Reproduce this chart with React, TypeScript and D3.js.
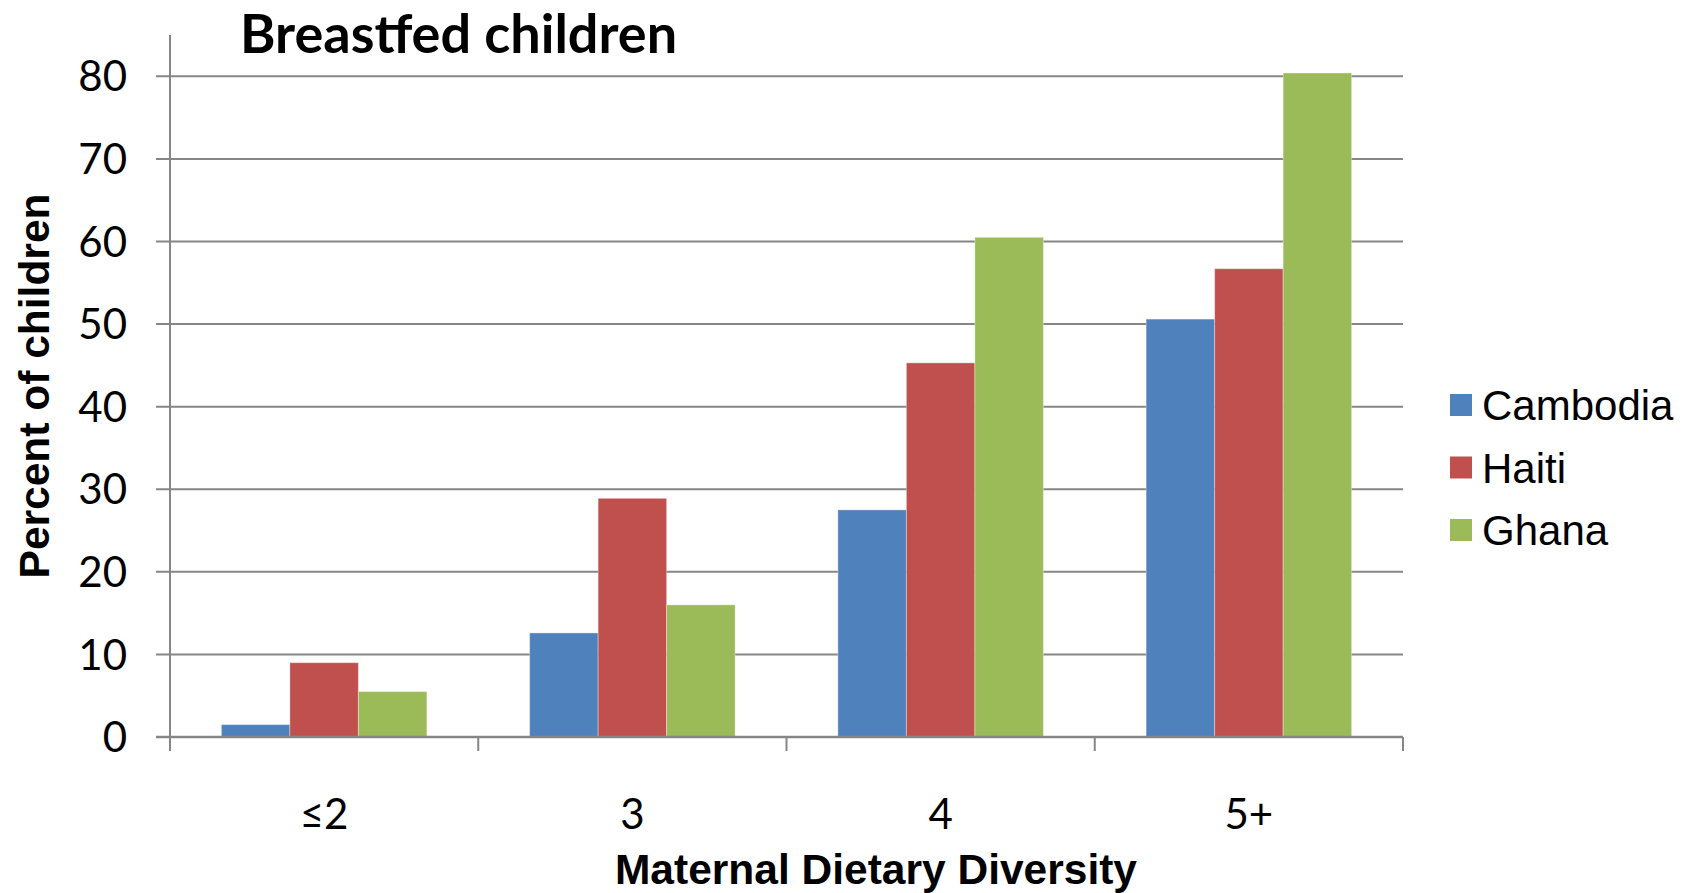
import React from "react";
import * as d3 from "d3";

const categories = ["≤2", "3", "4", "5+"];
const seriesNames = ["Cambodia", "Haiti", "Ghana"];
const cambodia = [1.5, 12.6, 27.5, 50.6];
const haiti = [9.0, 28.9, 45.3, 56.7];
const ghana = [5.5, 16.0, 60.5, 80.4];
const yTicks = [0, 10, 20, 30, 40, 50, 60, 70, 80];
const colors = ["#4F81BD", "#C0504D", "#9BBB59"];

const W = 1690;
const H = 893;
const left = 170;
const right = 1403;
const top = 35;
const bottom = 737;

export default function App() {
  const series = [cambodia, haiti, ghana];
  const x = d3.scaleBand<string>().domain(categories).range([left, right]).paddingInner(0).paddingOuter(0);
  const inner = d3
    .scaleBand<string>()
    .domain(seriesNames)
    .range([0, x.bandwidth()])
    .paddingInner(0)
    .paddingOuter(0.75);
  const y = d3.scaleLinear().domain([0, 85]).range([bottom, top]);
  const grid = "#868686";
  const sansNarrow = "Lato, 'Liberation Sans', sans-serif";
  const arial = "'Liberation Sans', Arial, sans-serif";
  const boundaries = categories.map((c) => x(c)!).concat([right]);

  return (
    <svg width={W} height={H} style={{ position: "absolute", left: 0, top: 0, background: "#fff" }}>
      {/* gridlines with left tick stubs */}
      {yTicks.map((t) => (
        <line key={"g" + t} x1={156} x2={right} y1={y(t)} y2={y(t)} stroke={grid} strokeWidth={2} />
      ))}
      {/* bars */}
      {categories.map((c, ci) =>
        series.map((s, si) => (
          <rect
            key={c + si}
            x={x(c)! + inner(seriesNames[si])!}
            y={y(s[ci])}
            width={inner.bandwidth()}
            height={y(0) - y(s[ci])}
            fill={colors[si]}
            stroke="rgba(255,255,255,0.35)"
            strokeWidth={1}
          />
        ))
      )}
      {/* axes */}
      <line x1={left} x2={left} y1={top} y2={751} stroke={grid} strokeWidth={2} />
      <line x1={156} x2={right} y1={y(0)} y2={y(0)} stroke={grid} strokeWidth={2.5} />
      {boundaries.map((b, i) => (
        <line key={"t" + i} x1={b} x2={b} y1={y(0)} y2={751} stroke={grid} strokeWidth={2} />
      ))}
      {/* y tick labels */}
      {yTicks.map((t) => (
        <text
          key={"l" + t}
          x={127}
          y={y(t)}
          dy="0.36em"
          textAnchor="end"
          fontFamily={sansNarrow}
          fontSize={42}
          fill="#000"
        >
          {t}
        </text>
      ))}
      {/* category labels */}
      {categories.map((c) => (
        <text
          key={"c" + c}
          x={x(c)! + x.bandwidth() / 2}
          y={814}
          dy="0.36em"
          textAnchor="middle"
          fontFamily={sansNarrow}
          fontSize={42}
          fill="#000"
        >
          {c}
        </text>
      ))}
      {/* title */}
      <text x={240} y={34} dy="0.36em" fontFamily={sansNarrow} fontWeight="bold" fontSize={54} fill="#000">
        Breastfed children
      </text>
      {/* axis titles */}
      <text
        x={876}
        y={869}
        dy="0.36em"
        textAnchor="middle"
        fontFamily={arial}
        fontWeight="bold"
        fontSize={42.5}
        fill="#000"
      >
        Maternal Dietary Diversity
      </text>
      <text
        transform={`translate(34,386) rotate(-90)`}
        dy="0.36em"
        textAnchor="middle"
        fontFamily={arial}
        fontWeight="bold"
        fontSize={42.5}
        fill="#000"
      >
        Percent of children
      </text>
      {/* legend */}
      {seriesNames.map((n, i) => (
        <g key={"lg" + n} transform={`translate(1450, ${405 + i * 62.5})`}>
          <rect x={0} y={-11} width={22} height={22} fill={colors[i]} />
          <text x={32} y={0} dy="0.36em" fontFamily={arial} fontSize={42} fill="#000">
            {n}
          </text>
        </g>
      ))}
    </svg>
  );
}
